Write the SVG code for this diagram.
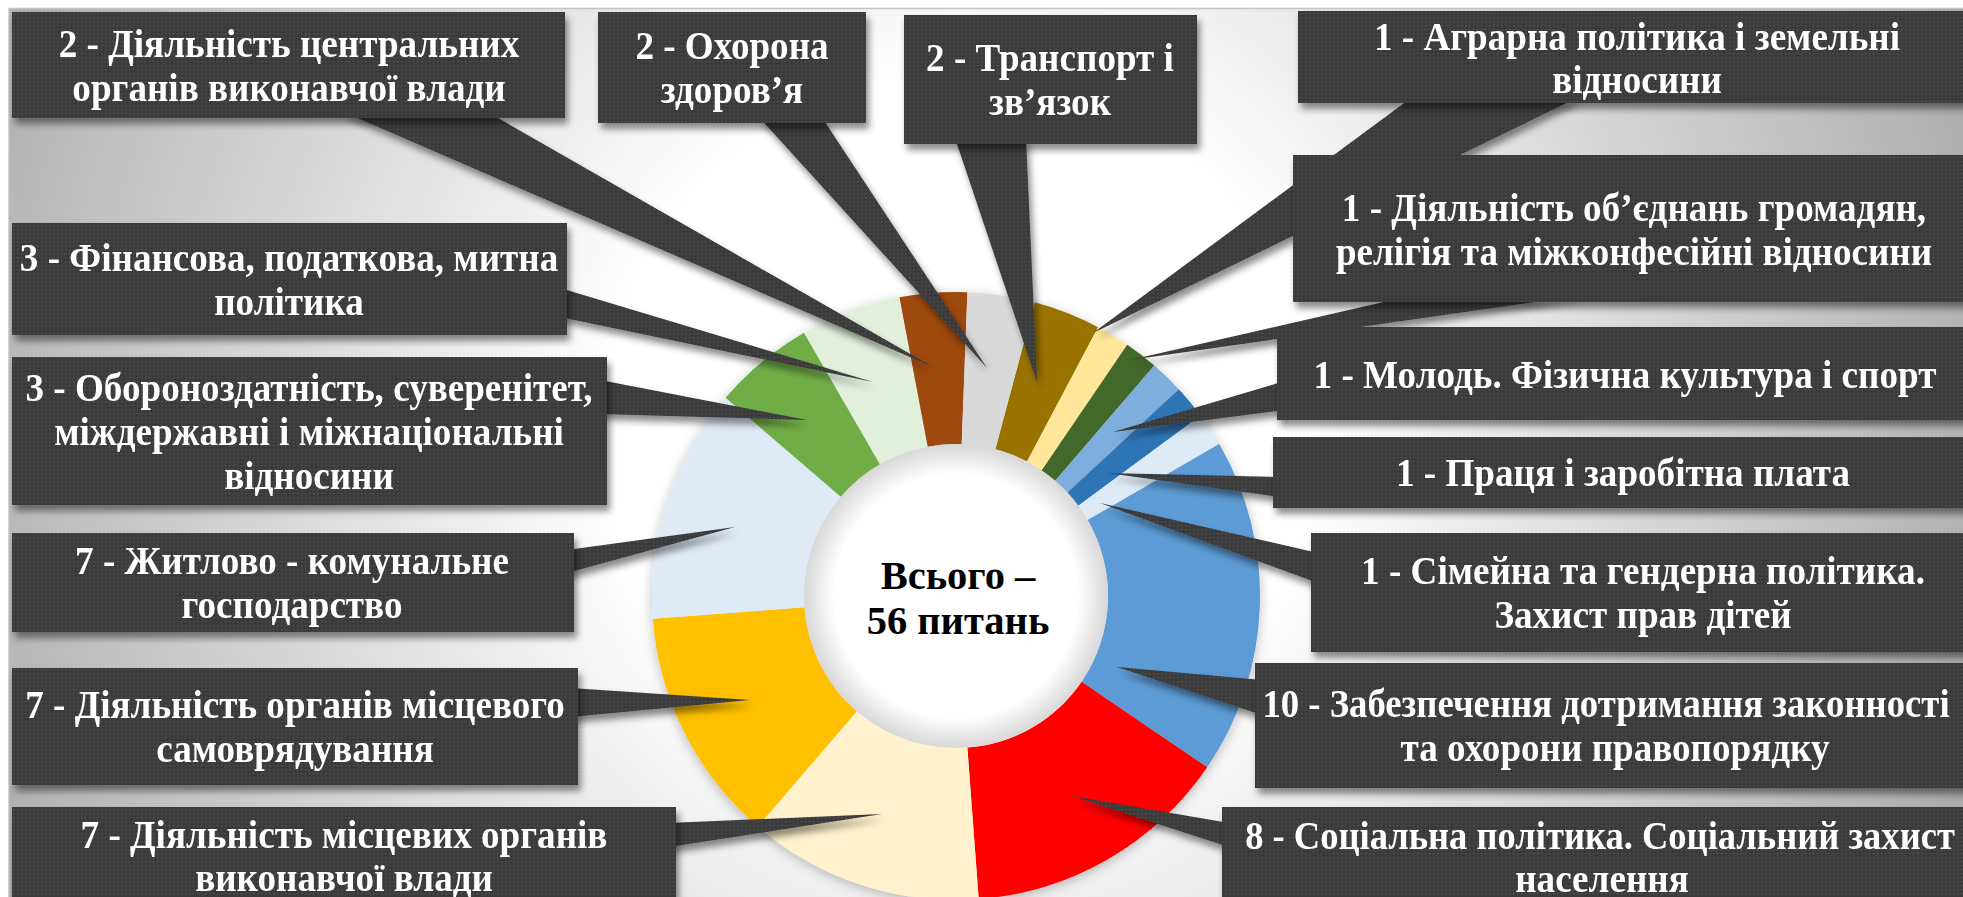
<svg xmlns="http://www.w3.org/2000/svg" width="1963" height="897" viewBox="0 0 1963 897">
<defs>
<style>
.box{fill:url(#tex)}
.lbl{font-family:"Liberation Serif","Times New Roman",serif;font-weight:bold;font-size:39.5px;fill:#ffffff;text-anchor:middle}
.ctr{font-family:"Liberation Serif","Times New Roman",serif;font-weight:bold;font-size:40.5px;fill:#000000;text-anchor:middle}
</style>
<radialGradient id="bg" gradientUnits="userSpaceOnUse" cx="960" cy="430" r="1100">
<stop offset="0" stop-color="#ffffff"/>
<stop offset="0.32" stop-color="#ffffff"/>
<stop offset="1" stop-color="#a8a8a8"/>
</radialGradient>
<radialGradient id="hole" gradientUnits="userSpaceOnUse" cx="956" cy="596" r="152">
<stop offset="0" stop-color="#ffffff"/>
<stop offset="0.8" stop-color="#ffffff"/>
<stop offset="1" stop-color="#d8d8d8"/>
</radialGradient>
<pattern id="tex" width="4" height="4" patternUnits="userSpaceOnUse">
<rect width="4" height="4" fill="#3a3a3a"/>
<rect x="1" y="1" width="1.4" height="1.4" fill="#525252"/>
</pattern>
<filter id="sh" x="-10%" y="-10%" width="130%" height="140%">
<feDropShadow dx="3" dy="6" stdDeviation="3.5" flood-color="#000" flood-opacity="0.45"/>
</filter>
<filter id="ringsh" x="-10%" y="-10%" width="120%" height="120%">
<feDropShadow dx="0" dy="3" stdDeviation="6" flood-color="#000" flood-opacity="0.25"/>
</filter>
</defs>
<rect width="1963" height="897" fill="#ffffff"/>
<rect x="9" y="8.5" width="1960" height="895" fill="url(#bg)" stroke="#c4c4c4" stroke-width="1.5"/>

<g id="donut">
<g filter="url(#ringsh)">
<path fill="#997300" d="M1034.68,302.36 A304,304 0 0 1 1098.05,327.23 L1027.02,461.61 A152,152 0 0 0 995.34,449.18 Z"/>
<path fill="#FFE699" d="M1098.05,327.23 A304,304 0 0 1 1127.25,344.82 L1041.63,470.41 A152,152 0 0 0 1027.02,461.61 Z"/>
<path fill="#43682B" d="M1127.25,344.82 A304,304 0 0 1 1154.30,365.57 L1055.15,480.79 A152,152 0 0 0 1041.63,470.41 Z"/>
<path fill="#7DAEDD" d="M1154.30,365.57 A304,304 0 0 1 1178.85,389.23 L1067.42,492.61 A152,152 0 0 0 1055.15,480.79 Z"/>
<path fill="#2E75B6" d="M1178.85,389.23 A304,304 0 0 1 1200.60,415.48 L1078.30,505.74 A152,152 0 0 0 1067.42,492.61 Z"/>
<path fill="#DDEBF7" d="M1200.60,415.48 A304,304 0 0 1 1219.27,444 L1087.64,520 A152,152 0 0 0 1078.30,505.74 Z"/>
<path fill="#5B9BD5" d="M1219.27,444 A304,304 0 0 1 1207.18,767.25 L1081.59,681.63 A152,152 0 0 0 1087.64,520 Z"/>
<path fill="#FF0000" d="M1207.18,767.25 A304,304 0 0 1 978.72,899.15 L967.36,747.58 A152,152 0 0 0 1081.59,681.63 Z"/>
<path fill="#FFF2CC" d="M978.72,899.15 A304,304 0 0 1 757.70,826.43 L856.85,711.21 A152,152 0 0 0 967.36,747.58 Z"/>
<path fill="#FFC000" d="M757.70,826.43 A304,304 0 0 1 652.85,618.72 L804.42,607.36 A152,152 0 0 0 856.85,711.21 Z"/>
<path fill="#DEEAF6" d="M652.85,618.72 A304,304 0 0 1 725.57,397.70 L840.79,496.85 A152,152 0 0 0 804.42,607.36 Z"/>
<path fill="#70AD47" d="M725.57,397.70 A304,304 0 0 1 804,332.73 L880,464.36 A152,152 0 0 0 840.79,496.85 Z"/>
<path fill="#E2EFDA" d="M804,332.73 A304,304 0 0 1 899.48,297.30 L927.74,446.65 A152,152 0 0 0 880,464.36 Z"/>
<path fill="#9E480E" d="M899.48,297.30 A304,304 0 0 1 967.37,292.21 L961.68,444.11 A152,152 0 0 0 927.74,446.65 Z"/>
<path fill="#D9D9D9" d="M967.37,292.21 A304,304 0 0 1 1034.68,302.36 L995.34,449.18 A152,152 0 0 0 961.68,444.11 Z"/>
</g>
<circle cx="956" cy="596" r="152" fill="url(#hole)"/>
<text class="ctr" x="958" y="589">Всього –</text>
<text class="ctr" x="958" y="634">56 питань</text>
</g>

<g id="connectors" filter="url(#sh)">
<polygon class="box" points="339,110 484,110 933,367"/>
<polygon class="box" points="758,116 821,116 987,368"/>
<polygon class="box" points="955,138 1026,138 1037,382"/>
<polygon class="box" points="1411,98 1577,98 1093,333"/>
<polygon class="box" points="1410,296 1577,296 1130,360"/>
<polygon class="box" points="1285,381 1285,410 1113,432"/>
<polygon class="box" points="1280,477 1280,497 1107,473"/>
<polygon class="box" points="1318,553 1318,583 1100,503"/>
<polygon class="box" points="1262,680 1262,715 1117,667"/>
<polygon class="box" points="1229,823 1229,847 1072,796"/>
<polygon class="box" points="560,288 560,317 873,382"/>
<polygon class="box" points="600,380 600,414 807,420"/>
<polygon class="box" points="567,550 567,573 735,527"/>
<polygon class="box" points="571,688 571,717 750,700"/>
<polygon class="box" points="669,823 669,847 882,814"/>
</g>

<g id="nodeA" filter="url(#sh)"><rect class="box" x="12" y="12" width="553" height="106"/>
<text class="lbl" transform="translate(289 0) scale(0.94 1)" y="57">2 - Діяльність центральних</text>
<text class="lbl" transform="translate(289 0) scale(0.94 1)" y="101">органів виконавчої влади</text></g>
<g id="nodeB" filter="url(#sh)"><rect class="box" x="598" y="12" width="268" height="111"/>
<text class="lbl" transform="translate(732 0) scale(0.94 1)" y="59.5">2 - Охорона</text>
<text class="lbl" transform="translate(732 0) scale(0.94 1)" y="103.5">здоров’я</text></g>
<g id="nodeC" filter="url(#sh)"><rect class="box" x="904" y="15" width="293" height="129"/>
<text class="lbl" transform="translate(1050 0) scale(0.94 1)" y="71.5">2 - Транспорт і</text>
<text class="lbl" transform="translate(1050 0) scale(0.94 1)" y="115.5">зв’язок</text></g>
<g id="nodeD" filter="url(#sh)"><rect class="box" x="1298" y="11" width="680" height="92"/>
<text class="lbl" transform="translate(1637 0) scale(0.94 1)" y="50">1 - Аграрна політика і земельні</text>
<text class="lbl" transform="translate(1637 0) scale(0.94 1)" y="93">відносини</text></g>
<g id="nodeE" filter="url(#sh)"><rect class="box" x="1293" y="155" width="682" height="147"/>
<text class="lbl" transform="translate(1634 0) scale(0.94 1)" y="221">1 - Діяльність об’єднань громадян,</text>
<text class="lbl" transform="translate(1634 0) scale(0.94 1)" y="265">релігія та міжконфесійні відносини</text></g>
<g id="nodeF" filter="url(#sh)"><rect class="box" x="1277" y="327" width="696" height="93"/>
<text class="lbl" transform="translate(1625 0) scale(0.94 1)" y="388">1 - Молодь. Фізична культура і спорт</text></g>
<g id="nodeG" filter="url(#sh)"><rect class="box" x="1273" y="437" width="700" height="71"/>
<text class="lbl" transform="translate(1623 0) scale(0.94 1)" y="486">1 - Праця і заробітна плата</text></g>
<g id="nodeH" filter="url(#sh)"><rect class="box" x="1311" y="533" width="664" height="119"/>
<text class="lbl" transform="translate(1643 0) scale(0.94 1)" y="584.5">1 - Сімейна та гендерна політика.</text>
<text class="lbl" transform="translate(1643 0) scale(0.94 1)" y="628.5">Захист прав дітей</text></g>
<g id="nodeI" filter="url(#sh)"><rect class="box" x="1255" y="663" width="720" height="125"/>
<text class="lbl" transform="translate(1606 0) scale(0.93 1)" y="717.5">10 - Забезпечення дотримання законності</text>
<text class="lbl" transform="translate(1615 0) scale(0.94 1)" y="761.5">та охорони правопорядку</text></g>
<g id="nodeJ" filter="url(#sh)"><rect class="box" x="1222" y="807" width="760" height="100"/>
<text class="lbl" transform="translate(1600 0) scale(0.925 1)" y="849">8 - Соціальна політика. Соціальний захист</text>
<text class="lbl" transform="translate(1602 0) scale(0.94 1)" y="892">населення</text></g>
<g id="nodeK" filter="url(#sh)"><rect class="box" x="12" y="223" width="555" height="112"/>
<text class="lbl" transform="translate(289 0) scale(0.94 1)" y="271">3 - Фінансова, податкова, митна</text>
<text class="lbl" transform="translate(289 0) scale(0.94 1)" y="315">політика</text></g>
<g id="nodeL" filter="url(#sh)"><rect class="box" x="12" y="357" width="595" height="148"/>
<text class="lbl" transform="translate(309 0) scale(0.94 1)" y="401">3 - Обороноздатність, суверенітет,</text>
<text class="lbl" transform="translate(309 0) scale(0.94 1)" y="445">міждержавні і міжнаціональні</text>
<text class="lbl" transform="translate(309 0) scale(0.94 1)" y="489">відносини</text></g>
<g id="nodeM" filter="url(#sh)"><rect class="box" x="12" y="533" width="562" height="99"/>
<text class="lbl" transform="translate(292 0) scale(0.94 1)" y="574.5">7 - Житлово - комунальне</text>
<text class="lbl" transform="translate(292 0) scale(0.94 1)" y="618.5">господарство</text></g>
<g id="nodeN" filter="url(#sh)"><rect class="box" x="12" y="668" width="566" height="117"/>
<text class="lbl" transform="translate(295 0) scale(0.94 1)" y="718.5">7 - Діяльність органів місцевого</text>
<text class="lbl" transform="translate(295 0) scale(0.94 1)" y="762.5">самоврядування</text></g>
<g id="nodeO" filter="url(#sh)"><rect class="box" x="12" y="807" width="664" height="100"/>
<text class="lbl" transform="translate(344 0) scale(0.94 1)" y="848">7 - Діяльність місцевих органів</text>
<text class="lbl" transform="translate(344 0) scale(0.94 1)" y="891">виконавчої влади</text></g>
</svg>
